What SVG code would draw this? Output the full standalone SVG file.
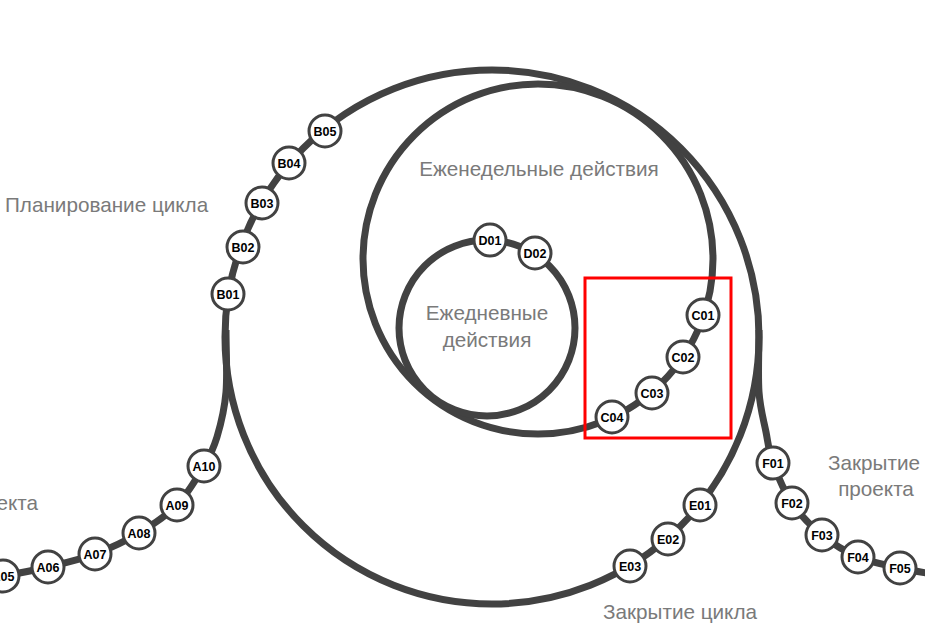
<svg xmlns="http://www.w3.org/2000/svg" width="925" height="636" viewBox="0 0 925 636">
<style>
.ln{fill:none;stroke:#424242;stroke-width:7}
.nd circle{fill:#fff;stroke:#424242;stroke-width:3}
.nd text{font-family:"Liberation Sans",Arial,sans-serif;font-size:12.5px;font-weight:bold;fill:#000;text-anchor:middle}
.lbl{font-family:"Liberation Sans",Arial,sans-serif;font-size:20.7px;fill:#7a7a7a;text-anchor:middle}
</style>
<rect width="925" height="636" fill="#fff"/>
<g id="connectors">
<circle class="ln" cx="492" cy="337" r="267"/>
<circle class="ln" cx="538" cy="259" r="175"/>
<circle class="ln" cx="487" cy="328" r="88"/>
<path class="ln" d="M226,330 C226,350.7 227.5,374.2 226,392 C224.5,409.8 220.7,424.7 217,437 C213.3,449.3 210.7,454.7 204,466 C197.3,477.3 187.8,493.8 177,505 C166.2,516.2 152.7,524.8 139,533 C125.3,541.2 110.2,548.3 95,554 C79.8,559.7 63.3,563.3 48,567 C32.7,570.7 16,573.7 3,576 C-10,578.3 -24.5,580.2 -30,581"/>
<path class="ln" d="M759,330 C759,350.7 757.8,375 759,392 C760.2,409 763.7,420.2 766,432 C768.3,443.8 768.7,451.2 773,463 C777.3,474.8 783.8,491 792,503 C800.2,515 811,526 822,535 C833,544 845,551.5 858,557 C871,562.5 885.5,564.8 900,568 C914.5,571.2 937.5,574.7 945,576"/>
</g>
<g id="labels">
<text class="lbl" x="5" y="212" style="text-anchor:start">Планирование цикла</text>
<text class="lbl" x="539" y="176">Еженедельные действия</text>
<text class="lbl" x="487" y="320">Ежедневные</text>
<text class="lbl" x="487" y="347">действия</text>
<text class="lbl" x="680" y="619">Закрытие цикла</text>
<text class="lbl" x="874" y="470">Закрытие</text>
<text class="lbl" x="876" y="496">проекта</text>
<text class="lbl" x="38" y="510" style="text-anchor:end">проекта</text>
</g>
<g id="A05" class="nd"><circle cx="3" cy="576" r="16"/><text x="3" y="580.5">A05</text></g>
<g id="A06" class="nd"><circle cx="48" cy="567" r="16"/><text x="48" y="571.5">A06</text></g>
<g id="A07" class="nd"><circle cx="95" cy="554" r="16"/><text x="95" y="558.5">A07</text></g>
<g id="A08" class="nd"><circle cx="139" cy="533" r="16"/><text x="139" y="537.5">A08</text></g>
<g id="A09" class="nd"><circle cx="177" cy="505" r="16"/><text x="177" y="509.5">A09</text></g>
<g id="A10" class="nd"><circle cx="204" cy="466" r="16"/><text x="204" y="470.5">A10</text></g>
<g id="B01" class="nd"><circle cx="228" cy="294" r="16"/><text x="228" y="298.5">B01</text></g>
<g id="B02" class="nd"><circle cx="243" cy="247" r="16"/><text x="243" y="251.5">B02</text></g>
<g id="B03" class="nd"><circle cx="262" cy="203" r="16"/><text x="262" y="207.5">B03</text></g>
<g id="B04" class="nd"><circle cx="289" cy="163" r="16"/><text x="289" y="167.5">B04</text></g>
<g id="B05" class="nd"><circle cx="325" cy="131" r="16"/><text x="325" y="135.5">B05</text></g>
<g id="D01" class="nd"><circle cx="490" cy="240" r="16"/><text x="490" y="244.5">D01</text></g>
<g id="D02" class="nd"><circle cx="535" cy="253" r="16"/><text x="535" y="257.5">D02</text></g>
<g id="C01" class="nd"><circle cx="703" cy="315" r="16"/><text x="703" y="319.5">C01</text></g>
<g id="C02" class="nd"><circle cx="683" cy="357" r="16"/><text x="683" y="361.5">C02</text></g>
<g id="C03" class="nd"><circle cx="652" cy="393" r="16"/><text x="652" y="397.5">C03</text></g>
<g id="C04" class="nd"><circle cx="612" cy="417" r="16"/><text x="612" y="421.5">C04</text></g>
<g id="E01" class="nd"><circle cx="700" cy="505" r="16"/><text x="700" y="509.5">E01</text></g>
<g id="E02" class="nd"><circle cx="668" cy="539" r="16"/><text x="668" y="543.5">E02</text></g>
<g id="E03" class="nd"><circle cx="630" cy="566" r="16"/><text x="630" y="570.5">E03</text></g>
<g id="F01" class="nd"><circle cx="773" cy="463" r="16"/><text x="773" y="467.5">F01</text></g>
<g id="F02" class="nd"><circle cx="792" cy="503" r="16"/><text x="792" y="507.5">F02</text></g>
<g id="F03" class="nd"><circle cx="822" cy="535" r="16"/><text x="822" y="539.5">F03</text></g>
<g id="F04" class="nd"><circle cx="858" cy="557" r="16"/><text x="858" y="561.5">F04</text></g>
<g id="F05" class="nd"><circle cx="900" cy="568" r="16"/><text x="900" y="572.5">F05</text></g>
<rect id="highlight" x="585" y="278" width="146" height="160" fill="none" stroke="#f00" stroke-width="3"/>
</svg>
